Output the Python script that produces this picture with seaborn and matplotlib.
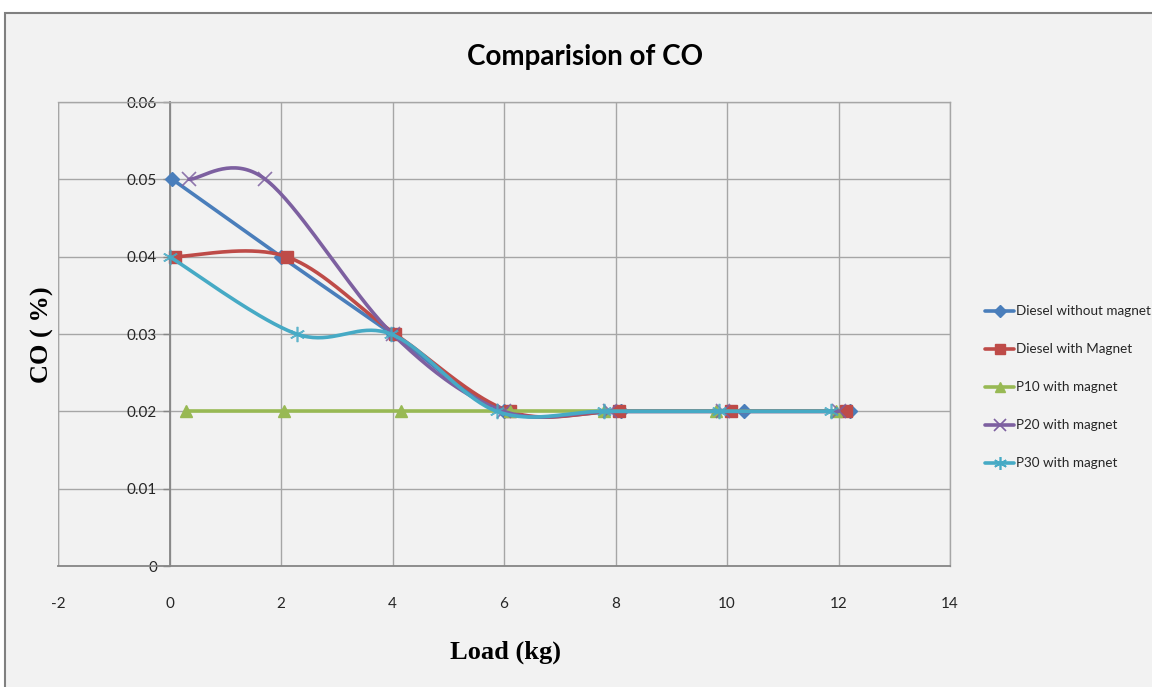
import numpy as np
import pandas as pd
import seaborn as sns
import matplotlib.pyplot as plt
from matplotlib.lines import Line2D
from matplotlib.patches import Rectangle

## Data
series_names = ['Diesel without magnet', 'Diesel with Magnet', 'P10 with magnet',
                'P20 with magnet', 'P30 with magnet']

load_diesel = [0.05, 2.0, 4.0, 6.0, 8.1, 10.3, 12.2]
co_diesel = [0.05, 0.04, 0.03, 0.02, 0.02, 0.02, 0.02]

load_diesel_mag = [0.1, 2.1, 4.05, 6.1, 8.06, 10.07, 12.13]
co_diesel_mag = [0.04, 0.04, 0.03, 0.02, 0.02, 0.02, 0.02]

load_p10 = [0.3, 2.05, 4.15, 6.1, 7.8, 9.8, 11.95]
co_p10 = [0.02, 0.02, 0.02, 0.02, 0.02, 0.02, 0.02]

load_p20 = [0.35, 1.72, 4.0, 6.0, 7.9, 9.93, 12.0]
co_p20 = [0.05, 0.05, 0.03, 0.02, 0.02, 0.02, 0.02]

load_p30 = [0.0, 2.28, 3.97, 5.87, 7.8, 9.86, 11.87]
co_p30 = [0.04, 0.03, 0.03, 0.02, 0.02, 0.02, 0.02]

x_ticks = [-2, 0, 2, 4, 6, 8, 10, 12, 14]
y_ticks = [0, 0.01, 0.02, 0.03, 0.04, 0.05, 0.06]

colors = ['#4a7ebb', '#be4b48', '#98b954', '#7d60a0', '#46aac5']
markers = ['D', 's', '^', 'x', (6, 2, 0)]
msizes = [7, 9, 8, 10, 11]
medge = [1, 1, 1, 1.2, 1.2]

sns.set_style('white')
narrow = ['Liberation Sans Narrow', 'DejaVu Sans Condensed', 'Lato', 'DejaVu Sans']
plt.rcParams['font.family'] = narrow
plt.rcParams['axes.unicode_minus'] = False

fig = plt.figure(figsize=(11.52, 6.87), dpi=100)
fig.patch.set_facecolor('white')
fig.patches.append(Rectangle((5 / 1152, -0.01), 1.0, 1 - 13 / 687 + 0.01,
                             transform=fig.transFigure, facecolor='#f2f2f2',
                             edgecolor='#808080', lw=1.5, zorder=-5))

ax = fig.add_axes([58 / 1152, 1 - 566 / 687, (950 - 58) / 1152, (566 - 102) / 687])
ax.set_zorder(2)
ax.set_facecolor('#f2f2f2')
ax.set_xlim(-2, 14)
ax.set_ylim(0, 0.06)
ax.set_xticks(x_ticks)
ax.set_yticks(y_ticks)
ax.set_yticklabels(['0', '0.01', '0.02', '0.03', '0.04', '0.05', '0.06'])
ax.grid(True, color='#a6a6a6', lw=1)
ax.set_axisbelow(True)

# y axis crosses at x = 0 like Excel
ax.spines['left'].set_position(('data', 0))
ax.spines['left'].set_color('#868686')
ax.spines['left'].set_linewidth(1.3)
ax.axvline(-2, color='#a6a6a6', lw=1, zorder=0.5)
for s in ['top', 'right', 'bottom']:
    ax.spines[s].set_color('#a6a6a6')
    ax.spines[s].set_linewidth(1)
ax.spines['bottom'].set_color('#868686')
ax.spines['bottom'].set_linewidth(1.3)

ax.tick_params(axis='y', left=True, length=5, width=1, color='#868686', pad=4,
               labelsize=11, labelcolor='#262626')
ax.tick_params(axis='x', bottom=False, length=0, pad=22, labelsize=11,
               labelcolor='#262626')


def smooth(xs, ys, n=40):
    # Excel-like smoothed line: bezier segments, control points at 1/6 of neighbour chords
    pts = ax.transData.transform(np.column_stack([xs, ys]))
    P = np.vstack([pts[0], pts, pts[-1]])
    t = np.linspace(0, 1, n)[:, None]
    out = []
    for i in range(1, len(P) - 2):
        p0, p1, p2, p3 = P[i - 1], P[i], P[i + 1], P[i + 2]
        c1 = p1 + (p2 - p0) / 6
        c2 = p2 - (p3 - p1) / 6
        seg = (1 - t) ** 3 * p1 + 3 * (1 - t) ** 2 * t * c1 + 3 * (1 - t) * t ** 2 * c2 + t ** 3 * p2
        out.append(seg)
    curve = ax.transData.inverted().transform(np.vstack(out))
    return pd.DataFrame({'load': curve[:, 0], 'co': curve[:, 1]})


all_x = [load_diesel, load_diesel_mag, load_p10, load_p20, load_p30]
all_y = [co_diesel, co_diesel_mag, co_p10, co_p20, co_p30]

handles = []
for i, (xs, ys) in enumerate(zip(all_x, all_y)):
    curve = smooth(xs, ys)
    sns.lineplot(data=curve, x='load', y='co', sort=False, estimator=None,
                 color=colors[i], lw=2.6, ax=ax, zorder=3 + i)
    ax.plot(xs, ys, linestyle='none', marker=markers[i], ms=msizes[i],
            color=colors[i], mec=colors[i], mew=medge[i], zorder=3 + i,
            alpha=0.85 if i >= 3 else 1)
    handles.append(Line2D([], [], color=colors[i], lw=2.6, marker=markers[i],
                          ms=msizes[i] * 0.85, mew=medge[i]))

ax.set_xlabel('')
ax.set_ylabel('')

fig.text(585 / 1152, 1 - 57 / 687, 'Comparision of CO', ha='center', va='center',
         fontsize=20, fontweight='bold', family=narrow, color='black')
fig.text(505 / 1152, 1 - 652 / 687, 'Load (kg)', ha='center', va='center',
         fontsize=19, fontweight='bold', family=['Liberation Serif', 'DejaVu Serif'],
         color='black')
fig.text(42 / 1152, 1 - 335 / 687, 'CO ( %)', ha='center', va='center', rotation=90,
         fontsize=19, fontweight='bold', family=['Liberation Serif', 'DejaVu Serif'],
         color='black')

fig.legend(handles, series_names, loc='upper left', bbox_to_anchor=(980 / 1152, 1 - 300 / 687),
           frameon=False, fontsize=9.7, handlelength=2.1, handletextpad=0.15,
           labelspacing=1.93, borderaxespad=0, labelcolor='#262626')

fig.savefig('out.png', dpi=100, facecolor=fig.get_facecolor())
